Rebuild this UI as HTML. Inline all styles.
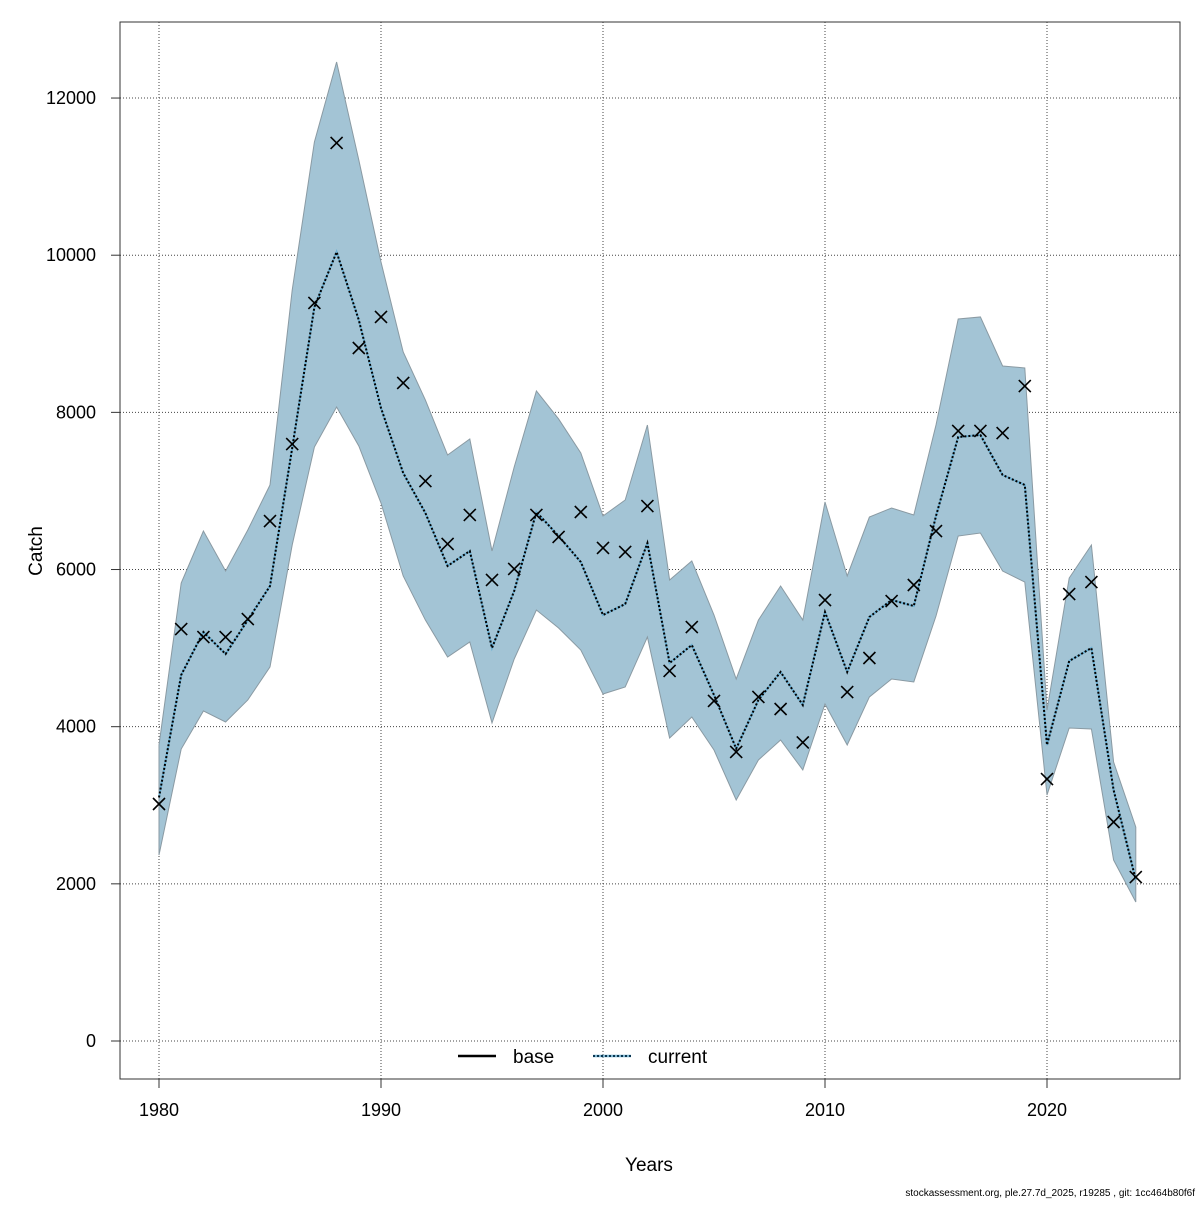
<!DOCTYPE html>
<html><head><meta charset="utf-8"><style>
body{margin:0;background:#fff;}
svg text{font-family:"Liberation Sans",sans-serif;}
</style></head><body>
<svg id="chart" width="1200" height="1200" xmlns="http://www.w3.org/2000/svg">
<rect width="1200" height="1200" fill="#fff"/>
<g id="grid"></g>
<g id="band"></g>
<g id="lines"></g>
<g id="points"></g>
<g id="axes"></g>
<rect x="120" y="22" width="1060" height="1057" fill="none" stroke="#333" stroke-width="1"/>
<text x="649" y="1171" font-size="19" text-anchor="middle">Years</text>
<text transform="translate(42,551) rotate(-90)" font-size="19" text-anchor="middle">Catch</text>
<g>
<g>
<line x1="458" y1="1056" x2="496" y2="1056" stroke="#000" stroke-width="2.5"/>
<text x="513" y="1063" font-size="19">base</text></g>
<g>
<line x1="593" y1="1056" x2="631" y2="1056" stroke="#7fb6d0" stroke-width="2.5"/>
<line x1="593" y1="1056" x2="631" y2="1056" stroke="#0a3550" stroke-width="2" stroke-dasharray="2,2"/>
<text x="648" y="1063" font-size="19">current</text></g>
</g>
<text x="1195" y="1196" font-size="10" text-anchor="end">stockassessment.org, ple.27.7d_2025, r19285 , git: 1cc464b80f6f</text>
</svg>
<script>
const years=[];for(let y=1980;y<=2024;y++)years.push(y);
const observed=[3016,5243,5141,5141,5370,6617,7597,9392,11428,8819,9214,8374,7126,6325,6694,5867,6007,6694,6414,6732,6274,6223,6808,4709,5268,4327,3678,4378,4225,3800,5612,4441,4874,5599,5803,6490,7763,7763,7737,8335,3334,5688,5841,2787,2087];
const current=[3100,4658,5205,4925,5357,5790,7546,9341,10041,9175,8055,7228,6719,6045,6236,5001,5727,6732,6426,6096,5421,5561,6337,4810,5039,4403,3720,4340,4696,4276,5459,4696,5396,5612,5536,6681,7686,7712,7203,7076,3767,4836,5001,3194,2049];
const upper=[3767,5828,6490,5981,6503,7076,9557,11441,12459,11211,9913,8768,8157,7457,7661,6236,7305,8272,7916,7483,6681,6885,7839,5867,6109,5421,4607,5357,5790,5357,6859,5918,6668,6783,6694,7839,9188,9214,8590,8565,4212,5892,6312,3550,2723];
const lower=[2367,3716,4200,4060,4340,4760,6312,7559,8068,7572,6846,5918,5357,4887,5078,4047,4861,5485,5256,4976,4416,4505,5141,3856,4123,3703,3067,3576,3831,3449,4289,3767,4378,4607,4569,5408,6426,6465,5981,5841,3131,3983,3971,2303,1769];
const xTicks=[1980,1990,2000,2010,2020];
const yTicks=[0,2000,4000,6000,8000,10000,12000];
const NS="http://www.w3.org/2000/svg";
const X=y=>159+(y-1980)*22.2;
const Y=v=>1041-v*0.07858;
function mk(tag,attrs,parent){const e=document.createElementNS(NS,tag);for(const k in attrs)e.setAttribute(k,attrs[k]);parent.appendChild(e);return e;}
const grid=document.getElementById('grid'),axes=document.getElementById('axes');
xTicks.forEach(t=>{
const l=mk('line',{x1:X(t),x2:X(t),y1:22,y2:1079,stroke:'#444','stroke-dasharray':'1,2'},grid);


const tk=mk('line',{x1:X(t),x2:X(t),y1:1079,y2:1088,stroke:'#333'},axes);


const tx=mk('text',{x:X(t),y:1116,'font-size':18,'text-anchor':'middle'},axes);tx.textContent=t;


});
yTicks.forEach(t=>{
const l=mk('line',{x1:120,x2:1180,y1:Y(t),y2:Y(t),stroke:'#444','stroke-dasharray':'1,2'},grid);


const tk=mk('line',{x1:111,x2:120,y1:Y(t),y2:Y(t),stroke:'#333'},axes);


const tx=mk('text',{x:96,y:Y(t)+6,'font-size':18,'text-anchor':'end'},axes);tx.textContent=t;


});
let pts=years.map((y,i)=>X(y)+','+Y(upper[i]));
for(let i=years.length-1;i>=0;i--)pts.push(X(years[i])+','+Y(lower[i]));
const poly=mk('polygon',{points:pts.join(' '),fill:'#a3c4d5',stroke:'#8a9aa3','stroke-width':1},document.getElementById('band'));


const lp=years.map((y,i)=>X(y)+','+Y(current[i])).join(' ');
const lines=document.getElementById('lines');
const l1=mk('polyline',{points:lp,fill:'none',stroke:'#6ab0d4','stroke-width':2},lines);


const l2=mk('polyline',{points:lp,fill:'none',stroke:'#000','stroke-width':2,'stroke-dasharray':'2,2'},lines);


const pg=document.getElementById('points');
years.forEach((y,i)=>{
const cx=X(y),cy=Y(observed[i]),s=6;
const p=mk('path',{d:`M${cx-s},${cy-s}L${cx+s},${cy+s}M${cx-s},${cy+s}L${cx+s},${cy-s}`,stroke:'#000','stroke-width':1.6},pg);


});
</script>
</body></html>
